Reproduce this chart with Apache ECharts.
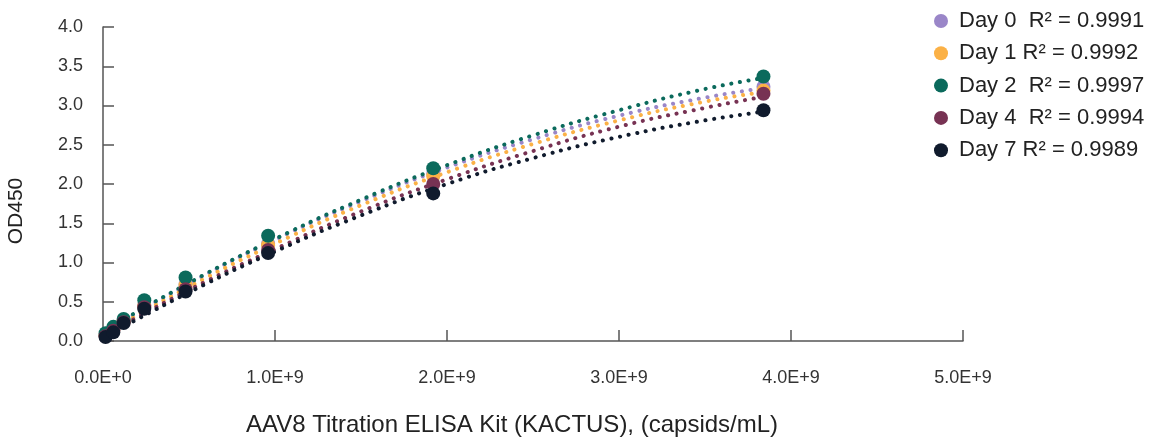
<!DOCTYPE html>
<html>
<head>
<meta charset="utf-8">
<script src="https://cdn.jsdelivr.net/npm/echarts@6/dist/echarts.min.js"></script>
<style>
html,body{margin:0;padding:0;background:#fff;}
#chart{width:1166px;height:441px;}
</style>
</head>
<body>
<div id="chart"></div>
<script>
// Concentrations (capsids/mL)
const concentrations = [1.5e7, 6e7, 1.2e8, 2.4e8, 4.8e8, 9.6e8, 1.92e9, 3.84e9];
// Measured OD450
const day0 = [0.07, 0.14, 0.25, 0.46, 0.72, 1.24, 2.13, 3.24];
const day1 = [0.07, 0.14, 0.25, 0.45, 0.71, 1.22, 2.10, 3.19];
const day2 = [0.10, 0.18, 0.28, 0.52, 0.81, 1.34, 2.20, 3.37];
const day4 = [0.06, 0.13, 0.24, 0.43, 0.66, 1.16, 2.00, 3.15];
const day7 = [0.05, 0.11, 0.23, 0.41, 0.63, 1.12, 1.88, 2.94];
// Trendline values
const trendX = [0, 5e8, 1e9, 1.5e9, 2e9, 2.5e9, 3e9, 3.5e9, 3.84e9];
const trend0 = [0.10, 0.73, 1.29, 1.78, 2.21, 2.57, 2.87, 3.10, 3.22];
const trend1 = [0.08, 0.69, 1.24, 1.73, 2.15, 2.51, 2.81, 3.05, 3.17];
const trend2 = [0.12, 0.74, 1.30, 1.80, 2.24, 2.62, 2.94, 3.21, 3.35];
const trend4 = [0.06, 0.65, 1.17, 1.65, 2.06, 2.42, 2.73, 2.97, 3.11];
const trend7 = [0.04, 0.62, 1.14, 1.60, 2.00, 2.33, 2.60, 2.81, 2.92];
const seriesNames = ['Day 0  R\u00B2 = 0.9991', 'Day 1 R\u00B2 = 0.9992', 'Day 2  R\u00B2 = 0.9997', 'Day 4  R\u00B2 = 0.9994', 'Day 7 R\u00B2 = 0.9989'];
const xTicks = [0, 1e9, 2e9, 3e9, 4e9, 5e9];
const xTickLabels = ['0.0E+0', '1.0E+9', '2.0E+9', '3.0E+9', '4.0E+9', '5.0E+9'];

const colors = ['#9a86c8', '#fbb146', '#0b6a5c', '#773253', '#101b2d'];
const values = [day0, day1, day2, day4, day7];
const trends = [trend0, trend1, trend2, trend4, trend7];
const font = 'Liberation Sans';

const series = [];
trends.forEach((t, i) => {
  series.push({
    name: 'trend' + i,
    type: 'line',
    data: trendX.map((x, k) => [x, t[k]]),
    smooth: true,
    symbol: 'none',
    silent: true,
    z: 1,
    lineStyle: { color: colors[i], width: 4, type: [0.1, 8.6], cap: 'round' }
  });
});
values.forEach((v, i) => {
  series.push({
    name: seriesNames[i],
    type: 'scatter',
    data: concentrations.map((x, k) => [x, v[k]]),
    symbol: 'circle',
    symbolSize: 14,
    z: 3,
    itemStyle: { color: colors[i], opacity: 1 }
  });
});

const chart = echarts.init(document.getElementById('chart'), null, { renderer: 'canvas' });
chart.setOption({
  animation: false,
  backgroundColor: '#fff',
  textStyle: { fontFamily: font },
  grid: { left: 103, right: 203, top: 27, bottom: 100, containLabel: false, outerBoundsMode: 'none' },
  legend: {
    data: seriesNames,
    orient: 'vertical',
    left: 929,
    top: 5,
    itemGap: 10.3,
    itemWidth: 14,
    itemHeight: 14,
    icon: 'circle',
    textStyle: { fontFamily: font, fontSize: 22, color: '#222', padding: [0, 0, 0, 6] }
  },
  xAxis: {
    type: 'value',
    min: 0, max: 5e9, interval: 1e9,
    name: 'AAV8 Titration ELISA Kit (KACTUS), (capsids/mL)',
    nameLocation: 'middle',
    nameGap: 72,
    nameTextStyle: { fontFamily: font, fontSize: 24, color: '#222', padding: [0, 42, 0, 0] },
    axisLine: { show: true, lineStyle: { color: '#555', width: 1.5 } },
    axisTick: { show: true, inside: true, length: 11, lineStyle: { color: '#555', width: 1.5 } },
    axisLabel: {
      margin: 28, fontFamily: font, fontSize: 18, color: '#333',
      formatter: v => { const k = xTicks.indexOf(v); return k >= 0 ? xTickLabels[k] : ''; }
    },
    splitLine: { show: false }
  },
  yAxis: {
    type: 'value',
    min: 0, max: 4, interval: 0.5,
    name: 'OD450',
    nameLocation: 'middle',
    nameGap: 76,
    nameTextStyle: { fontFamily: font, fontSize: 21, color: '#222', padding: [0, 54, 0, 0] },
    axisLine: { show: true, lineStyle: { color: '#555', width: 1.5 } },
    axisTick: { show: true, inside: true, length: 11, lineStyle: { color: '#555', width: 1.5 } },
    axisLabel: { margin: 20, fontFamily: font, fontSize: 18, color: '#333', formatter: v => v.toFixed(1) },
    splitLine: { show: false }
  },
  series: series
});
</script>
</body>
</html>
